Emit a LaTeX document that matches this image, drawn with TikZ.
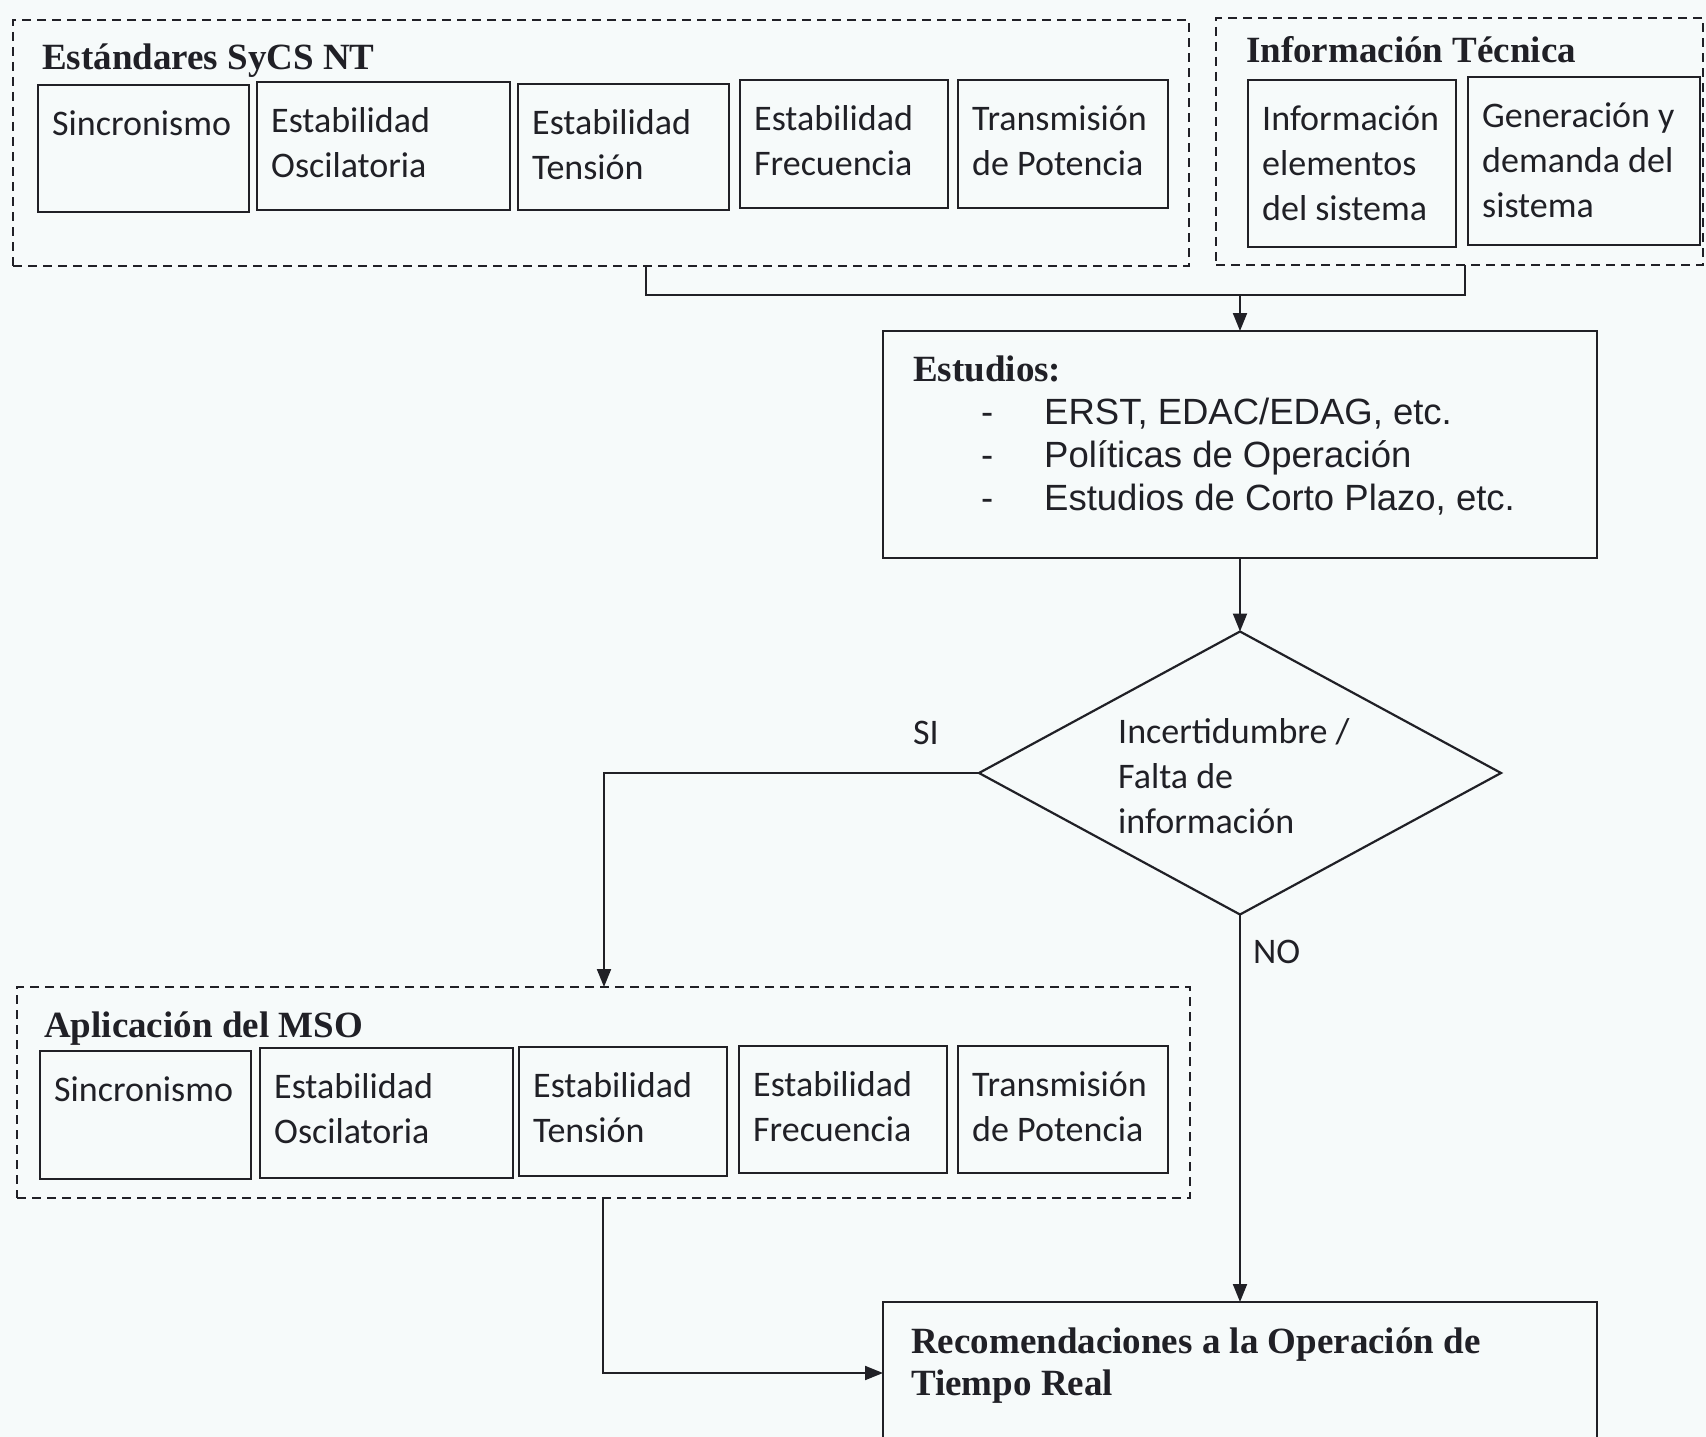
\documentclass[tikz,border=0pt]{standalone}
\usepackage{fontspec}
\usetikzlibrary{shapes.geometric,arrows.meta}
\newfontfamily\carlitof{Carlito}
\newfontfamily\timesf{Liberation Serif}
\newfontfamily\arialf{Liberation Sans}
\definecolor{bg}{RGB}{246,250,250}
\definecolor{ink}{RGB}{32,32,38}
\tikzset{
  smallbox/.style={draw=ink, line width=2.6pt, rectangle, inner sep=0pt, outer sep=0pt},
  groupbox/.style={draw=ink, line width=2.2pt, dash pattern=on 9pt off 6pt, rectangle, inner sep=0pt, outer sep=0pt},
  bigbox/.style={draw=ink, line width=2.4pt, rectangle, inner sep=0pt, outer sep=0pt},
  dia/.style={draw=ink, line width=2.2pt, diamond, inner sep=0pt, outer sep=0pt, minimum width=522pt, minimum height=283pt, aspect=1.845},
  boxtext/.style={anchor=base west, inner sep=0pt, text=ink, font=\carlitof\fontsize{36}{45}\selectfont},
  titletext/.style={anchor=base west, inner sep=0pt, text=ink, font=\timesf\bfseries\fontsize{37}{42}\selectfont},
  listtext/.style={anchor=base west, inner sep=0pt, text=ink, font=\arialf\fontsize{36.5}{43}\selectfont},
  conn/.style={draw=ink, line width=2pt},
  arr/.style={conn, -{Triangle[length=18pt,width=14pt]}}
}
\newcommand{\mybox}[6]{%
  \node[smallbox, minimum width={#4-#2}, minimum height={#5-#3}] (#1) at ({(#2+#4)/2},{(#3+#5)/2}) {};
  \node[boxtext] (#1t) at ({#2+14},{#3+50}) {\parbox[t]{220pt}{#6}};
}
\begin{document}
\begin{tikzpicture}[x=1pt,y=-1pt]
\useasboundingbox (0,0) rectangle (1706,1437);
\clip (0,0) rectangle (1706,1437);
\fill[bg] (0,0) rectangle (1706,1437);

% group boxes
\node[groupbox, minimum width=1176, minimum height=246] (gA) at (601,143) {};
\node[groupbox, minimum width=487, minimum height=247] (gB) at (1459.5,141.5) {};
\node[groupbox, minimum width=1173, minimum height=211] (gC) at (603.5,1092.5) {};

% titles
\node[titletext] (tA) at (42,70) {Estándares SyCS NT};
\node[titletext] (tB) at (1246,63) {Información Técnica};
\node[titletext] (tC) at (44,1037) {Aplicación del MSO};

% top boxes
\mybox{a1}{38}{85}{249}{212}{Sincronismo}
\mybox{a2}{257}{82}{510}{210}{Estabilidad\\Oscilatoria}
\mybox{a3}{518}{84}{729}{210}{Estabilidad\\Tensión}
\mybox{a4}{740}{80}{948}{208}{Estabilidad\\Frecuencia}
\mybox{a5}{958}{80}{1168}{208}{Transmisión\\de Potencia}
\mybox{b1}{1248}{80}{1456}{247}{Información\\elementos\\del sistema}
\mybox{b2}{1468}{77}{1700}{245}{Generación y\\demanda del\\sistema}

% bottom boxes
\mybox{c1}{40}{1051}{251}{1179}{Sincronismo}
\mybox{c2}{260}{1048}{513}{1178}{Estabilidad\\Oscilatoria}
\mybox{c3}{519}{1047}{727}{1176}{Estabilidad\\Tensión}
\mybox{c4}{739}{1046}{947}{1173}{Estabilidad\\Frecuencia}
\mybox{c5}{958}{1046}{1168}{1173}{Transmisión\\de Potencia}

% Estudios
\node[bigbox, minimum width=714, minimum height=227] (est) at (1240,444.5) {};
\node[titletext] (estT) at (913,381) {Estudios:};
\node[listtext] (estL) at (981,424) {\parbox[t]{600pt}{\makebox[63pt][l]{-}ERST, EDAC/EDAG, etc.\\ \makebox[63pt][l]{-}Políticas de Operación\\ \makebox[63pt][l]{-}Estudios de Corto Plazo, etc.}};

% decision
\node[dia] (dec) at (1240,773) {};
\node[boxtext] (decT) at (1118,743) {\parbox[t]{300pt}{Incertidumbre /\\Falta de\\información}};
\node[boxtext] (si) at (913,744) {SI};
\node[boxtext] (no) at (1253,963) {NO};

% Recomendaciones
\node[bigbox, minimum width=714, minimum height=160] (rec) at (1240,1382) {};
\node[titletext] (recT) at (911,1353) {\parbox[t]{700pt}{Recomendaciones a la Operación de\\Tiempo Real}};

% connectors
\coordinate (jA) at (646,295);
\coordinate (jB) at (1465,295);
\draw[conn] (gA.south -| jA) -- (jA) -- (jB) -- (gB.south -| jB);
\draw[arr] (jA -| est.north) -- (est.north);
\draw[arr] (est.south) -- (dec.north);
\coordinate (jC) at (604,773);
\draw[arr] (dec.west) -- (jC) -- (gC.north -| jC);
\draw[arr] (dec.south) -- (rec.north -| dec.south);
\coordinate (jD) at (603,1373);
\draw[arr] (gC.south -| jD) -- (jD) -- (jD -| rec.west);
\end{tikzpicture}
\end{document}
